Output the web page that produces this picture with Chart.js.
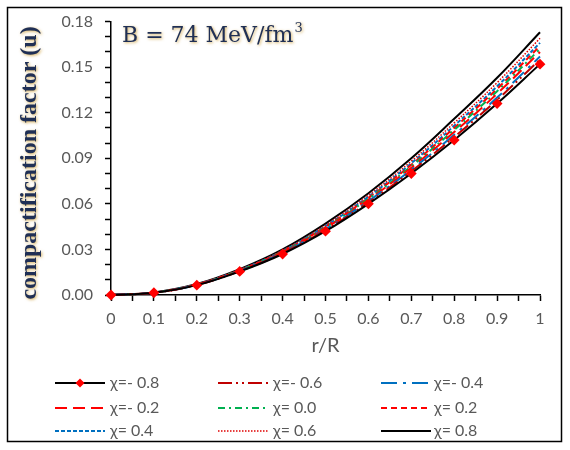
<!DOCTYPE html>
<html>
<head>
<meta charset="utf-8">
<script src="https://cdn.jsdelivr.net/npm/chart.js@4/dist/chart.umd.min.js"></script>
<style>
  html, body { margin: 0; padding: 0; background: #fff; }
  #wrap { width: 570px; height: 450px; }
</style>
</head>
<body>
<div id="wrap"><canvas id="chart" width="570" height="450"></canvas></div>
<script>
// r/R positions
const rR = [0, 0.1, 0.2, 0.3, 0.4, 0.5, 0.6, 0.7, 0.8, 0.9, 1.0];

// compactification factor u for each chi value
const uChiM08 = [0, 0.0015, 0.0065, 0.0155, 0.0270, 0.0420, 0.0600, 0.0800, 0.1020, 0.1260, 0.1520];
const uChiM06 = [0, 0.0015, 0.0066, 0.0157, 0.0275, 0.0428, 0.0610, 0.0815, 0.1040, 0.1285, 0.1550];
const uChiM04 = [0, 0.0016, 0.0067, 0.0159, 0.0278, 0.0433, 0.0618, 0.0825, 0.1055, 0.1300, 0.1570];
const uChiM02 = [0, 0.0016, 0.0068, 0.0161, 0.0282, 0.0440, 0.0627, 0.0838, 0.1073, 0.1325, 0.1600];
const uChi00  = [0, 0.0016, 0.0068, 0.0162, 0.0285, 0.0445, 0.0634, 0.0848, 0.1087, 0.1342, 0.1620];
const uChiP02 = [0, 0.0016, 0.0069, 0.0164, 0.0287, 0.0449, 0.0640, 0.0857, 0.1100, 0.1357, 0.1640];
const uChiP04 = [0, 0.0016, 0.0070, 0.0165, 0.0290, 0.0454, 0.0647, 0.0867, 0.1114, 0.1374, 0.1660];
const uChiP06 = [0, 0.0017, 0.0071, 0.0167, 0.0294, 0.0460, 0.0657, 0.0881, 0.1133, 0.1398, 0.1690];
const uChiP08 = [0, 0.0017, 0.0072, 0.0170, 0.0300, 0.0470, 0.0670, 0.0900, 0.1160, 0.1430, 0.1730];

const seriesLabels = ['χ=- 0.8', 'χ=- 0.6', 'χ=- 0.4', 'χ=- 0.2', 'χ= 0.0', 'χ= 0.2', 'χ= 0.4', 'χ= 0.6', 'χ= 0.8'];
const seriesValues = [uChiM08, uChiM06, uChiM04, uChiM02, uChi00, uChiP02, uChiP04, uChiP06, uChiP08];

// line styles per series
const styles = [
  { color: '#000000', dash: [], width: 2, marker: true },
  { color: '#C00000', dash: [14, 4, 2, 4, 2, 4], width: 2 },
  { color: '#0070C0', dash: [16, 6, 3, 6], width: 2 },
  { color: '#FF0000', dash: [12, 6], width: 2 },
  { color: '#00B050', dash: [7, 4, 2, 4], width: 2 },
  { color: '#FF0000', dash: [6, 4], width: 2 },
  { color: '#0070C0', dash: [4, 2], width: 2 },
  { color: '#E00000', dash: [1.5, 1.5], width: 1.5 },
  { color: '#000000', dash: [], width: 2 }
];

const datasets = seriesValues.map((vals, i) => ({
  label: seriesLabels[i],
  data: vals.map((v, k) => ({ x: rR[k], y: v })),
  borderColor: styles[i].color,
  borderDash: styles[i].dash,
  borderWidth: styles[i].width,
  pointRadius: styles[i].marker ? 4 : 0,
  pointStyle: 'rectRot',
  pointBackgroundColor: '#FF0000',
  pointBorderColor: '#FF0000',
  fill: false,
  clip: false,
  tension: 0.4
}));

const gray = '#595959';

// Dessine le titre de l'axe y, l'annotation, la légende et le cadre
const decorations = {
  id: 'decorations',
  afterDraw(chart) {
    const ctx = chart.ctx;
    ctx.save();

    // texte avec halo
    ctx.shadowColor = 'rgba(200,150,40,0.75)';
    ctx.shadowBlur = 3;
    ctx.shadowOffsetX = 1;
    ctx.shadowOffsetY = 1;
    ctx.fillStyle = '#1F2F55';

    ctx.save();
    ctx.translate(30, 163);
    ctx.rotate(-Math.PI / 2);
    ctx.font = 'bold 24px "Liberation Serif"';
    ctx.textAlign = 'center';
    ctx.textBaseline = 'middle';
    ctx.fillText('compactification factor (u)', 0, 0);
    ctx.restore();

    ctx.font = '22px "DejaVu Serif"';
    ctx.textAlign = 'left';
    ctx.textBaseline = 'alphabetic';
    const main = 'B = 74 MeV/fm';
    ctx.fillText(main, 122, 42);
    const w = ctx.measureText(main).width;
    ctx.font = '13px "DejaVu Serif"';
    ctx.fillText('3', 122 + w + 1, 32);
    ctx.restore();

    // légende
    ctx.save();
    const colX = [55, 218, 381];
    const textX = [110, 273, 434];
    const rowY = [383, 408, 431];
    chart.data.datasets.forEach((ds, i) => {
      const c = i % 3, r = Math.floor(i / 3);
      const y = rowY[r];
      ctx.beginPath();
      ctx.strokeStyle = ds.borderColor;
      ctx.lineWidth = ds.borderWidth;
      ctx.setLineDash(ds.borderDash);
      ctx.moveTo(colX[c], y);
      ctx.lineTo(colX[c] + 50, y);
      ctx.stroke();
      ctx.setLineDash([]);
      if (ds.pointRadius > 0) {
        const mx = colX[c] + 25;
        ctx.beginPath();
        ctx.fillStyle = '#FF0000';
        ctx.moveTo(mx, y - 4.5);
        ctx.lineTo(mx + 4.5, y);
        ctx.lineTo(mx, y + 4.5);
        ctx.lineTo(mx - 4.5, y);
        ctx.closePath();
        ctx.fill();
      }
      ctx.fillStyle = gray;
      ctx.font = '16px Lato';
      ctx.textAlign = 'left';
      ctx.textBaseline = 'middle';
      ctx.fillText(ds.label, textX[c], y);
    });

    // cadre extérieur
    ctx.strokeStyle = '#000';
    ctx.lineWidth = 1.5;
    ctx.strokeRect(7.5, 7.5, 554, 434);
    ctx.restore();
  }
};

new Chart(document.getElementById('chart'), {
  type: 'line',
  data: { datasets },
  options: {
    responsive: false,
    animation: false,
    layout: { padding: { left: 0, right: 30, top: 19, bottom: 92 } },
    plugins: { legend: { display: false }, tooltip: { enabled: false } },
    scales: {
      x: {
        type: 'linear',
        min: 0,
        max: 1,
        afterFit: s => { s.height = 63; },
        ticks: {
          stepSize: 0.05,
          autoSkip: false,
          maxRotation: 0,
          color: gray,
          font: { family: 'Lato', size: 16 },
          padding: 8,
          callback: v => {
            const k = Math.round(v * 100);
            if (k % 10 !== 0) return '';
            return k === 0 ? '0' : (k === 100 ? '1' : (k / 100).toFixed(1));
          }
        },
        grid: { drawOnChartArea: false, drawTicks: true, tickLength: 6, tickColor: '#000', tickWidth: 1.5 },
        border: { color: '#000', width: 1.5 },
        title: { display: true, text: 'r/R', color: gray, font: { family: 'Lato', size: 20 }, padding: 0 }
      },
      y: {
        min: 0,
        max: 0.18,
        afterFit: s => { s.width = 111; },
        ticks: {
          stepSize: 0.01,
          autoSkip: false,
          color: gray,
          font: { family: 'Lato', size: 16 },
          padding: 12,
          callback: v => {
            const k = Math.round(v * 100);
            return k % 3 === 0 ? (k / 100).toFixed(2) : '';
          }
        },
        grid: { drawOnChartArea: false, drawTicks: true, tickLength: 6, tickColor: '#000', tickWidth: 1.5 },
        border: { color: '#000', width: 1.5 }
      }
    }
  },
  plugins: [decorations]
});
</script>
</body>
</html>
